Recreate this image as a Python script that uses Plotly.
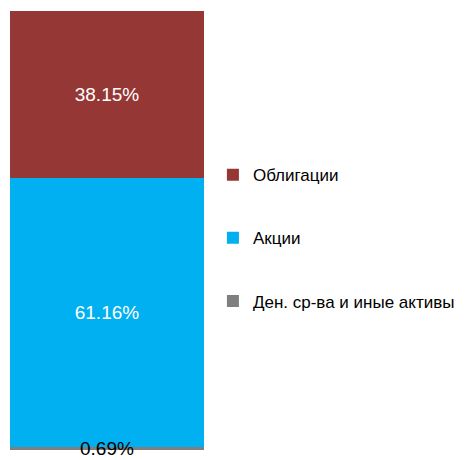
import plotly.graph_objects as go

category = ["Структура"]
names = ["Ден. ср-ва и иные активы", "Акции", "Облигации"]
values = [0.69, 61.16, 38.15]
colors = ["#7F7F7F", "#00B0F0", "#953735"]
label_colors = ["black", "white", "white"]

fig = go.Figure()
for i, (n, v, c) in enumerate(zip(names, values, colors)):
    show_text = i > 0
    fig.add_trace(go.Bar(
        x=category, y=[v], name=n, marker=dict(color=c, line=dict(width=0)),
        width=1,
        text=[f"{v:.2f}%"] if show_text else None,
        texttemplate="%{text}" if show_text else None,
        textposition="inside" if show_text else "none",
        insidetextanchor="middle",
        textfont=dict(color=label_colors[i], size=19, family="Liberation Sans"),
        legendgroup=n, legendrank=3 - i,
        hoverinfo="skip",
    ))

fig.add_annotation(
    x=category[0], y=0, text=f"{values[0]:.2f}%", showarrow=False,
    yanchor="middle", yshift=2, borderpad=0,
    font=dict(color="black", size=19, family="Liberation Sans"),
)

fig.update_layout(
    barmode="stack",
    width=474, height=460,
    margin=dict(l=10, r=270, t=11, b=10),
    paper_bgcolor="white", plot_bgcolor="white",
    xaxis=dict(visible=False, range=[-0.5, 0.5]),
    yaxis=dict(visible=False, range=[0, 100]),
    showlegend=True,
    legend=dict(
        x=1.046, y=0.667, xanchor="left", yanchor="top",
        traceorder="grouped", tracegroupgap=38,
        font=dict(size=17, family="Liberation Sans", color="black"),
        itemclick=False,
    ),
)

fig.write_html("out.html")
